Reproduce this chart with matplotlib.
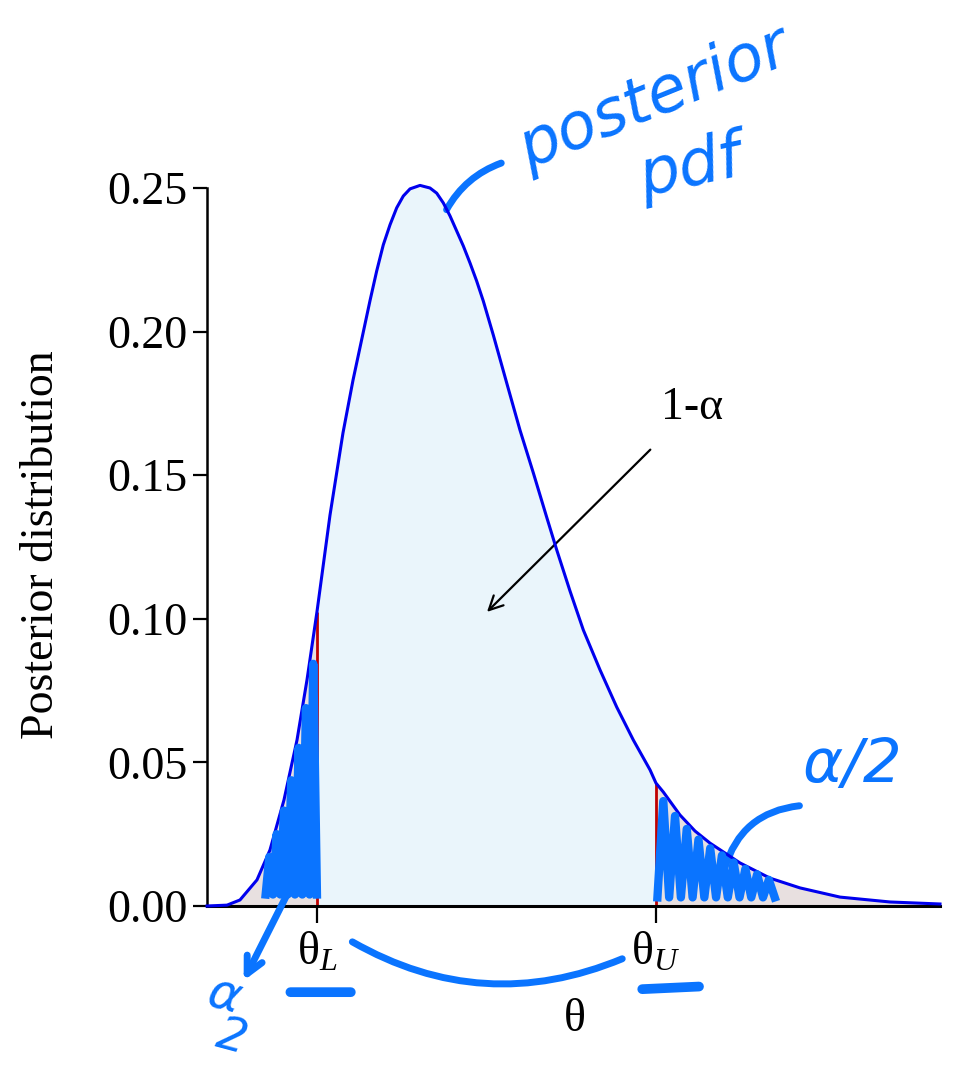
import numpy as np
import matplotlib
matplotlib.use("Agg")
import matplotlib.pyplot as plt

plt.rcParams['font.family'] = ['Liberation Serif', 'DejaVu Serif']
plt.rcParams['mathtext.fontset'] = 'custom'
plt.rcParams['mathtext.rm'] = 'Liberation Serif'
plt.rcParams['mathtext.it'] = 'Liberation Serif:italic'

# posterior pdf, points
theta = [0.0, 0.273, 0.450, 0.682, 0.859, 1.050, 1.228, 1.364, 1.50,
         1.678, 1.855, 1.992, 2.224, 2.315, 2.405, 2.497, 2.588, 2.678,
         2.770, 2.906, 3.042, 3.134, 3.224, 3.315, 3.407, 3.497, 3.588,
         3.679, 3.770, 3.906, 4.089, 4.270, 4.452, 4.634, 4.771, 4.952,
         5.134, 5.362, 5.589, 5.816, 6.044, 6.125, 6.225, 6.452, 6.658,
         6.862, 7.271, 7.681, 8.090, 8.636, 9.318, 10.0]
dens = [0.0, 0.0003, 0.0021, 0.0091, 0.0195, 0.0369, 0.0578, 0.0787, 0.1024,
        0.1361, 0.1647, 0.1831, 0.2108, 0.2211, 0.2302, 0.2372, 0.2431, 0.2472,
        0.2497, 0.2509, 0.2500, 0.2482, 0.2448, 0.2403, 0.2350, 0.2298, 0.2239,
        0.2176, 0.2106, 0.1988, 0.1821, 0.1657, 0.1508, 0.1354, 0.1240, 0.1097,
        0.0961, 0.0822, 0.0693, 0.0578, 0.0474, 0.0428, 0.0397, 0.0317, 0.0261,
        0.0219, 0.0150, 0.0097, 0.0063, 0.0031, 0.0014, 0.0007]
theta_L = 1.50
theta_U = 6.125
y_ticks = [0.00, 0.05, 0.10, 0.15, 0.20, 0.25]

x = np.array(theta)
y = np.array(dens)
yL = y[x == theta_L][0]
yU = y[x == theta_U][0]

fig = plt.figure(figsize=(9.77, 10.71), dpi=100)
ax = fig.add_axes([207/977, 165/1071, 733/977, 718/1071])

ax.fill_between(x, 0, y, where=(x <= theta_L), color='#e8e0e0', lw=0)
ax.fill_between(x, 0, y, where=(x >= theta_U), color='#e8e0e0', lw=0)
ax.fill_between(x, 0, y, where=(x >= theta_L) & (x <= theta_U), color='#eaf5fb', lw=0)
ax.vlines([theta_L, theta_U], 0, [yL, yU], color='#c00000', lw=2)
ax.plot(x, y, color='#0000ee', lw=2.2, clip_on=False, zorder=5)

ax.set_xlim(0, 10)
ax.set_ylim(0, 0.25)
ax.spines['top'].set_visible(False)
ax.spines['right'].set_visible(False)
ax.spines['left'].set_linewidth(1.8)
ax.spines['bottom'].set_linewidth(2.2)

ax.set_yticks(y_ticks)
ax.set_yticklabels([f'{v:.2f}' for v in y_ticks])
ax.tick_params(axis='y', labelsize=33, length=10, width=1.6, pad=4)
ax.set_xticks([theta_L, theta_U])
ax.set_xticklabels([r'$\mathrm{θ}_L$', r'$\mathrm{θ}_U$'])
ax.tick_params(axis='x', labelsize=33, length=12, width=1.6, pad=6)

fig.text(42/977, 1 - 545/1071, 'Posterior distribution', rotation=90,
         ha='center', va='center', fontsize=33)
fig.text(575/977, 1 - 1020/1071, 'θ', ha='center', va='center', fontsize=33)

ax.annotate('1-α', xy=(3.82, 0.1024), xytext=(6.62, 0.1734),
            ha='center', va='center', fontsize=33,
            arrowprops=dict(arrowstyle='->', color='black', lw=1.6,
                            mutation_scale=25, shrinkA=18, shrinkB=0))

# handwritten notes on top of the chart
hand = '#0a74ff'
ax.text(6.1, 0.281, 'posterior', color=hand, fontsize=46, rotation=22,
        ha='center', va='center', family='DejaVu Sans', style='italic')
ax.text(6.6, 0.257, 'pdf', color=hand, fontsize=46, rotation=12,
        ha='center', va='center', family='DejaVu Sans', style='italic')
ax.annotate('', xy=(3.25, 0.2416), xytext=(4.05, 0.259), annotation_clip=False,
            arrowprops=dict(arrowstyle='-', color=hand, lw=5,
                            connectionstyle='arc3,rad=0.2'))
ax.text(8.8, 0.049, 'α/2', color=hand, fontsize=44, ha='center',
        va='center', family='DejaVu Sans', style='italic')
ax.annotate('', xy=(7.05, 0.012), xytext=(8.12, 0.035),
            arrowprops=dict(arrowstyle='-', color=hand, lw=5,
                            connectionstyle='arc3,rad=0.35'))

# scribbled tails
zl = np.arange(0.8, theta_L + 0.01, 0.05)
top_l = np.interp(zl, x, y) * 0.9
ax.plot(zl, np.where(np.arange(len(zl)) % 2 == 0, 0.004, top_l),
        color=hand, lw=6, solid_joinstyle='round', zorder=6)
zr = np.arange(theta_U + 0.02, 7.8, 0.08)
top_r = np.interp(zr, x, y) * 0.92
ax.plot(zr, np.where(np.arange(len(zr)) % 2 == 0, 0.003, top_r),
        color=hand, lw=6, solid_joinstyle='round', zorder=6)

# strokes below the axis
ax.annotate('', xy=(0.5, -0.026), xytext=(1.25, 0.012),
            annotation_clip=False,
            arrowprops=dict(arrowstyle='->', color=hand, lw=5, mutation_scale=30,
                            shrinkA=0, shrinkB=0))
fig.text(224/977, 1 - 996/1071, 'α', color=hand, fontsize=36, rotation=-15,
         ha='center', va='center', family='DejaVu Sans', style='italic')
fig.text(232/977, 1 - 1038/1071, '2', color=hand, fontsize=34, rotation=-15,
         ha='center', va='center', family='DejaVu Sans', style='italic')
ax.annotate('', xy=(5.7, -0.018), xytext=(1.95, -0.012), annotation_clip=False,
            arrowprops=dict(arrowstyle='-', color=hand, lw=5,
                            connectionstyle='arc3,rad=0.25'))
ax.annotate('', xy=(2.0, -0.030), xytext=(1.1, -0.030), annotation_clip=False,
            arrowprops=dict(arrowstyle='-', color=hand, lw=7))
ax.annotate('', xy=(6.75, -0.028), xytext=(5.9, -0.029), annotation_clip=False,
            arrowprops=dict(arrowstyle='-', color=hand, lw=7))

fig.savefig('out.png', dpi=100)
